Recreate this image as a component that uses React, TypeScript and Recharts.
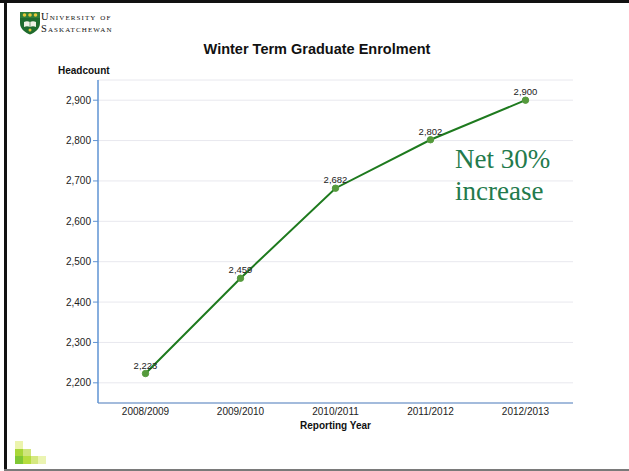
import React from 'react'
import { CartesianGrid, LabelList, Line, LineChart, XAxis, YAxis } from 'recharts'

const years = ['2008/2009', '2009/2010', '2010/2011', '2011/2012', '2012/2013']
const headcount = [2223, 2459, 2682, 2802, 2900]
const headcountTicks = [2200, 2300, 2400, 2500, 2600, 2700, 2800, 2900]

const data = years.map((year, i) => ({ year, headcount: headcount[i] }))

const SANS = '"Liberation Sans", Arial, sans-serif'
const SERIF = '"Liberation Serif", "Times New Roman", serif'
const AXIS_BLUE = '#5f93d3'
const AXIS_BLUE_LIGHT = '#a3bbdc'

const fmt = (v: number) => v.toLocaleString('en-US')

// little stair of squares in the bottom-left corner
const squares = [
  { x: 15, y: 441, c: '#ecf4ad' },
  { x: 15, y: 449, c: '#a9d738' },
  { x: 23, y: 449, c: '#cfe57c' },
  { x: 15, y: 456, c: '#7fc734' },
  { x: 23, y: 456, c: '#b6dd3e' },
  { x: 31, y: 456, c: '#d5e87f' },
  { x: 38, y: 456, c: '#ebf4b2' },
]

function Crest() {
  return (
    <svg width={22} height={24} viewBox="0 0 22 24" style={{ position: 'absolute', left: 19, top: 11 }}>
      <path d="M1 1 H21 V12 C21 18 16 21.5 11 23.5 C6 21.5 1 18 1 12 Z" fill="#1f6b2e" />
      <rect x={1} y={1} width={20} height={6} fill="#2f7d3a" />
      <circle cx={5.5} cy={4} r={1.8} fill="#e6c83a" />
      <circle cx={11} cy={4} r={1.8} fill="#e6c83a" />
      <circle cx={16.5} cy={4} r={1.8} fill="#e6c83a" />
      <path d="M5 11 Q8 9.5 11 11 Q14 9.5 17 11 V16 Q14 14.5 11 16 Q8 14.5 5 16 Z" fill="#f1f1e6" />
      <path d="M11 11 V16" stroke="#1f6b2e" strokeWidth={0.6} />
      <circle cx={11} cy={19} r={1.5} fill="#e6c83a" />
    </svg>
  )
}

const wordmark: React.CSSProperties = {
  position: 'absolute',
  left: 41,
  fontFamily: SERIF,
  fontSize: 10.5,
  lineHeight: 'normal',
  letterSpacing: 1.1,
  fontVariant: 'small-caps',
  color: '#111',
  whiteSpace: 'nowrap',
}

export default function App() {
  return (
    <div
      style={{
        position: 'absolute',
        left: 0,
        top: 0,
        width: 629,
        height: 471,
        background: '#fff',
        fontFamily: SANS,
        overflow: 'hidden',
      }}
    >
      {/* slide frame */}
      <div style={{ position: 'absolute', left: 0, top: 0, width: 629, height: 3, background: '#111' }} />
      <div style={{ position: 'absolute', left: 4, top: 0, width: 3, height: 470, background: '#111' }} />
      <div style={{ position: 'absolute', left: 4, top: 469, width: 625, height: 2, background: '#7a7a7a' }} />

      <Crest />
      <div style={{ ...wordmark, top: 10.5 }}>University of</div>
      <div style={{ ...wordmark, top: 23 }}>Saskatchewan</div>

      <div
        style={{
          position: 'absolute',
          left: 0,
          width: 634,
          top: 41,
          textAlign: 'center',
          fontSize: 14.5,
          fontWeight: 'bold',
          color: '#111',
        }}
      >
        Winter Term Graduate Enrolment
      </div>

      <div style={{ position: 'absolute', left: 58, top: 65, fontSize: 10, fontWeight: 'bold', color: '#111' }}>
        Headcount
      </div>
      <div
        style={{
          position: 'absolute',
          left: 98,
          width: 475,
          top: 420,
          textAlign: 'center',
          fontSize: 10,
          fontWeight: 'bold',
          color: '#111',
        }}
      >
        Reporting Year
      </div>

      <LineChart width={629} height={471} data={data} margin={{ top: 80, right: 56, bottom: 48, left: 38 }}>
        <CartesianGrid vertical={false} stroke="#e8e8ee" strokeWidth={1} />
        <XAxis
          dataKey="year"
          height={20}
          padding={{ left: 47.5, right: 47.5 }}
          tickLine={false}
          axisLine={{ stroke: AXIS_BLUE_LIGHT, strokeWidth: 2 }}
          tick={{ fontSize: 10, fill: '#222', fontFamily: SANS }}
          tickMargin={0}
          tickSize={5}
        />
        <YAxis
          width={60}
          domain={[2150, 2950]}
          ticks={headcountTicks}
          tickFormatter={fmt}
          tickSize={5}
          tickMargin={2}
          tickLine={{ stroke: AXIS_BLUE }}
          axisLine={{ stroke: AXIS_BLUE, strokeWidth: 1.5 }}
          tick={{ fontSize: 10, fill: '#222', fontFamily: SANS }}
        />
        <Line
          dataKey="headcount"
          stroke="#1e7a1e"
          strokeWidth={2}
          dot={{ r: 3.2, fill: '#559a3c', stroke: '#559a3c', strokeWidth: 1 }}
          activeDot={false}
          isAnimationActive={false}
        >
          <LabelList
            dataKey="headcount"
            position="top"
            offset={5}
            formatter={(v: number) => fmt(v)}
            style={{ fontSize: 9.5, fill: '#222', fontFamily: SANS }}
          />
        </Line>
      </LineChart>

      <div
        style={{
          position: 'absolute',
          left: 455,
          top: 143,
          fontFamily: SERIF,
          fontSize: 27,
          lineHeight: '32px',
          color: '#237a4c',
        }}
      >
        Net 30%
        <br />
        increase
      </div>

      {squares.map((s, i) => (
        <div
          key={i}
          style={{ position: 'absolute', left: s.x, top: s.y, width: 8, height: 8, background: s.c }}
        />
      ))}
    </div>
  )
}
